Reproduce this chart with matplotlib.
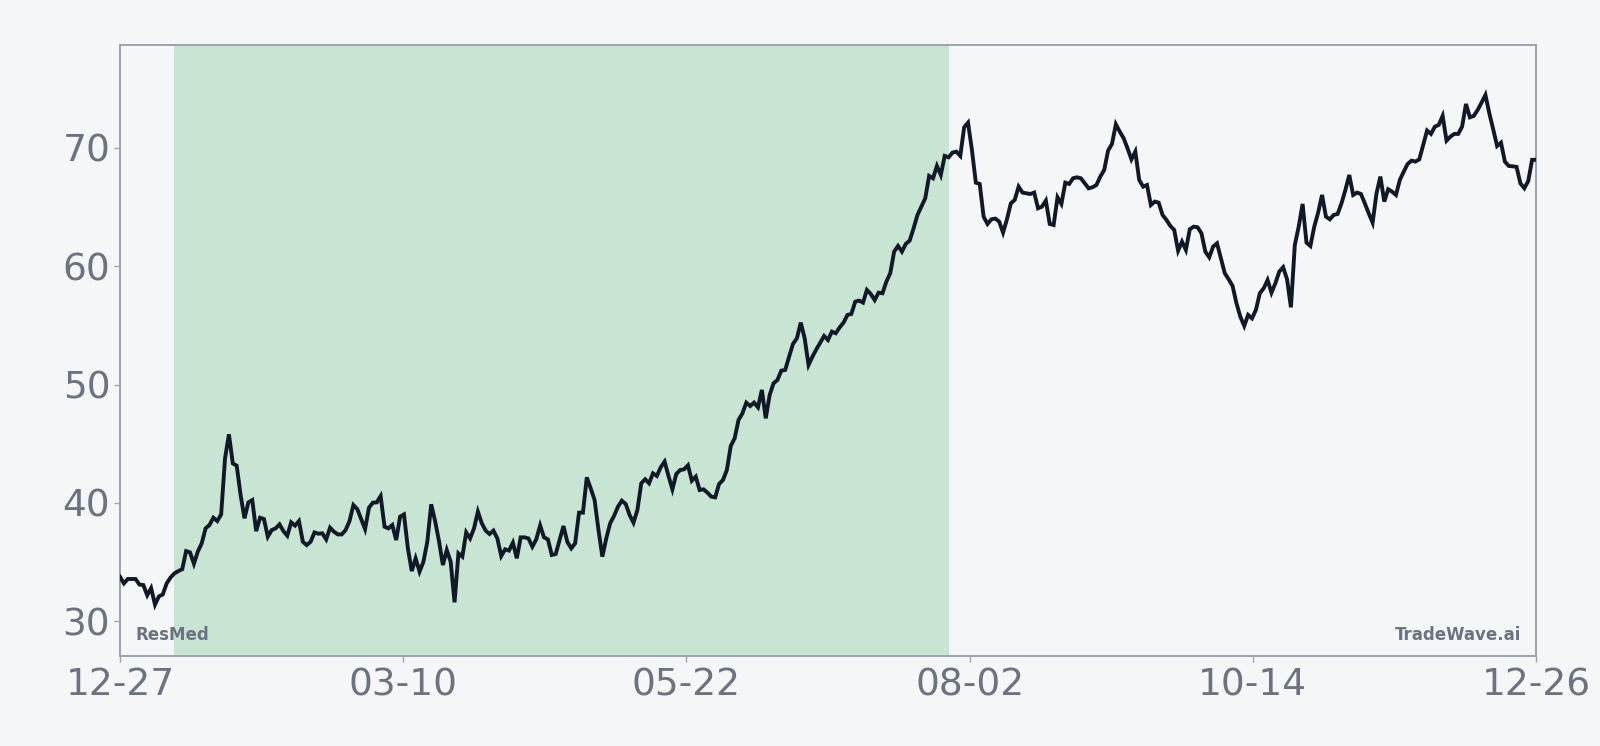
import numpy as np
import pandas as pd
import matplotlib
matplotlib.use("Agg")
import matplotlib.pyplot as plt
import matplotlib.dates as mdates

# ---- data ----
start_date = "2024-12-27"
end_date = "2025-12-26"
shade_start = "2025-01-09 20:00"
shade_end = "2025-07-28 05:00"
tick_labels = ["12-27", "03-10", "05-22", "08-02", "10-14", "12-26"]
y_ticks = [30, 40, 50, 60, 70]
company = "ResMed"
brand = "TradeWave.ai"

seg1 = [33.76, 33.2, 33.57, 33.57, 33.57, 33.1, 33.06, 32.2, 32.8, 31.4, 32.1, 32.27, 33.2, 33.7, 34.05,
        34.24, 34.4, 35.93, 35.82, 34.86, 35.88, 36.58, 37.85, 38.13, 38.75, 38.47, 39.03, 43.77, 45.8,
        43.34, 43.15, 40.67, 38.7, 40.05, 40.24, 37.62, 38.75, 38.64, 37.15, 37.71, 37.85, 38.19, 37.62,
        37.23, 38.36, 38.08, 38.47, 36.72, 36.44, 36.72, 37.51, 37.4, 37.43, 36.92, 37.91, 37.57, 37.34,
        37.34, 37.71, 38.47, 39.82, 39.48, 38.64, 37.79, 39.6, 40.02, 40.05, 40.58, 37.99, 37.85, 38.13,
        36.86, 38.84, 39.03, 36.16, 34.24, 35.31, 34.19, 35.03, 36.72, 39.88, 38.47, 36.78, 34.75, 36.02,
        35.03, 31.6, 35.74, 35.46, 37.51, 37.0, 37.85, 39.26]
seg2 = [38.28, 37.66, 37.37, 37.66, 37.0, 35.51, 36.08, 35.97, 36.64, 35.32, 37.09, 37.09, 37.0, 36.3,
        36.92, 38.1, 37.09, 36.92, 35.6, 35.68, 36.87, 38.05, 36.7, 36.16, 36.59, 39.18, 39.18, 42.16,
        41.23, 40.25, 37.71, 35.46, 37.0, 38.28, 38.9, 39.68, 40.19, 39.91, 38.98, 38.33, 39.4, 41.66,
        42.0, 41.66, 42.5, 42.28, 43.01, 43.49, 42.28, 41.15, 42.45, 42.78, 42.84, 43.18, 41.88, 42.22,
        41.09, 41.15, 40.87, 40.53, 40.47, 41.6, 41.94, 42.78, 44.81, 45.46, 47.01, 47.57, 48.48, 48.19,
        48.48, 48.08, 49.55, 47.15, 49.12, 50.11, 50.39, 51.18, 51.24, 52.36, 53.44, 53.91, 55.24, 53.91,
        51.66, 52.36, 52.98, 53.55, 54.11, 53.77]
seg3 = [54.48, 54.34, 54.84, 55.24, 55.89, 55.97, 57.01, 57.1, 56.93, 58.0, 57.66, 57.15, 57.77, 57.72,
        58.7, 59.41, 61.24, 61.72, 61.24, 61.89, 62.17, 63.21, 64.34, 65.04, 65.75, 67.64, 67.44, 68.48,
        67.72, 69.33, 69.21, 69.61, 69.69, 69.33, 71.75, 72.14, 69.83, 67.07, 66.96, 64.2, 63.58, 63.97,
        64.03, 63.78, 62.85, 63.97, 65.32, 65.61, 66.73, 66.23, 66.17, 66.11, 66.23, 64.9, 65.04, 65.55,
        63.58, 63.49, 65.83, 65.27, 67.07, 66.96, 67.44, 67.52, 67.44, 67.02, 66.59, 66.68, 66.87, 67.58,
        68.14, 69.78, 70.34, 72.0, 71.38, 70.82, 69.97, 69.04, 69.69, 67.3, 66.73, 66.87, 65.18, 65.47,
        65.38, 64.34, 63.92, 63.41, 63.07, 61.32]
seg4 = [62.08, 61.38, 63.13, 63.35, 63.3, 62.79, 61.24, 60.76, 61.66, 61.94, 60.68, 59.41, 58.9, 58.34,
        56.87, 55.74, 54.96, 55.89, 55.6, 56.31, 57.72, 58.14, 58.84, 57.77, 58.56, 59.55, 59.92, 58.9,
        56.53, 61.8, 63.35, 65.27, 62.0, 61.72, 63.35, 64.54, 66.03, 64.2, 63.97, 64.34, 64.42, 65.32,
        66.45, 67.72, 66.03, 66.23, 66.11, 65.32, 64.48, 63.69, 66.17, 67.58, 65.47, 66.51, 66.31, 66.03,
        67.3, 68.0, 68.65, 68.93, 68.85, 69.04, 70.26, 71.47, 71.19, 71.8, 71.95, 72.71, 70.62, 70.96,
        71.19, 71.19, 71.8, 73.72, 72.59, 72.71, 73.21, 73.83, 74.48, 72.93, 71.58, 70.17, 70.45, 68.85,
        68.48, 68.45, 68.4, 67.0, 66.6, 67.2, 69.0, 69.0]
prices = seg1 + seg2 + seg3 + seg4

dates = pd.date_range(start_date, end_date, freq="D")
n = min(len(dates), len(prices))
dates = dates[:n]
prices = prices[:n]

# ---- style ----
bg = "#f4f6f8"
line_c = "#111827"
grey = "#6b7280"
spine_c = "#9ca3af"
shade_c = "#c8e5d4"

fig = plt.figure(figsize=(16, 7.46), dpi=100, facecolor=bg)
ax = fig.add_axes([0.075, 0.1206, 0.885, 0.8195], facecolor=bg)

ax.axvspan(pd.Timestamp(shade_start), pd.Timestamp(shade_end), color=shade_c, lw=0, zorder=1)
ax.plot(dates, prices, color=line_c, lw=2.8, solid_joinstyle="miter", zorder=3)

x0 = mdates.date2num(dates[0])
x1 = mdates.date2num(dates[-1])
ax.set_xlim(x0, x1)
ax.set_ylim(27.06, 78.73)
ax.set_xticks(np.linspace(x0, x1, len(tick_labels)))
ax.set_xticklabels(tick_labels)
ax.set_yticks(y_ticks)
ax.set_yticklabels([str(v) for v in y_ticks])

for s in ax.spines.values():
    s.set_color(spine_c)
    s.set_linewidth(1.4)

ax.tick_params(axis="both", colors=spine_c, labelcolor=grey, labelsize=27, length=4, width=1)
ax.tick_params(axis="y", pad=3)
ax.tick_params(axis="x", pad=4)

ax.text(0.0106, 0.026, company, transform=ax.transAxes, ha="left", va="baseline",
        fontsize=12, fontweight="bold", color=grey, zorder=4)
ax.text(0.9894, 0.026, brand, transform=ax.transAxes, ha="right", va="baseline",
        fontsize=12, fontweight="bold", color=grey, zorder=4)

fig.savefig("out.png", dpi=100, facecolor=bg)
